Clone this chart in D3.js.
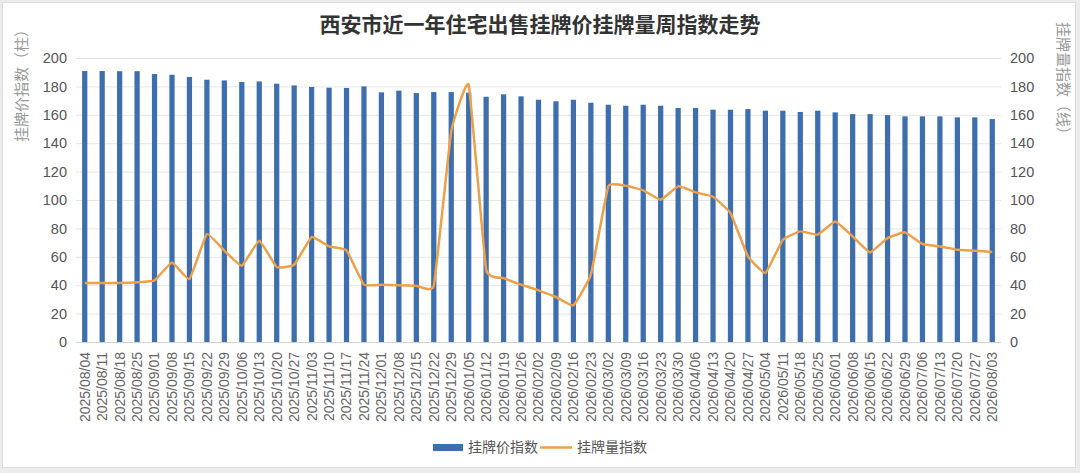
<!DOCTYPE html>
<html>
<head>
<meta charset="utf-8">
<script src="https://cdn.jsdelivr.net/npm/d3@7"></script>
<style>
  html, body { margin: 0; padding: 0; background: #ececec; }
  svg { display: block; font-family: "Liberation Sans", "Noto Sans CJK SC", sans-serif; }
</style>
</head>
<body>
<svg id="chart" width="1080" height="473"></svg>
<script>
// weekly dates
const weeks = [
  "2025/08/04", "2025/08/11", "2025/08/18", "2025/08/25", "2025/09/01", "2025/09/08",
  "2025/09/15", "2025/09/22", "2025/09/29", "2025/10/06", "2025/10/13", "2025/10/20",
  "2025/10/27", "2025/11/03", "2025/11/10", "2025/11/17", "2025/11/24", "2025/12/01",
  "2025/12/08", "2025/12/15", "2025/12/22", "2025/12/29", "2026/01/05", "2026/01/12",
  "2026/01/19", "2026/01/26", "2026/02/02", "2026/02/09", "2026/02/16", "2026/02/23",
  "2026/03/02", "2026/03/09", "2026/03/16", "2026/03/23", "2026/03/30", "2026/04/06",
  "2026/04/13", "2026/04/20", "2026/04/27", "2026/05/04", "2026/05/11", "2026/05/18",
  "2026/05/25", "2026/06/01", "2026/06/08", "2026/06/15", "2026/06/22", "2026/06/29",
  "2026/07/06", "2026/07/13", "2026/07/20", "2026/07/27", "2026/08/03"
];

// 挂牌价指数 (bars, left axis)
const priceIndex = [
  190.8, 190.8, 190.7, 190.7, 188.7, 188.2, 186.6, 184.7, 184.2, 183.1,
  183.5, 181.9, 180.7, 179.6, 179.1, 178.9, 180.0, 175.8, 177.0, 175.3,
  176.0, 176.0, 175.6, 172.7, 174.4, 173.0, 170.6, 169.5, 170.6, 168.5,
  167.1, 166.4, 167.1, 166.4, 164.8, 164.8, 163.6, 163.6, 164.0, 162.9,
  162.9, 162.0, 162.9, 161.7, 160.5, 160.5, 159.8, 158.9, 158.9, 158.9,
  158.2, 158.2, 157.0
];

// 挂牌量指数 (line, right axis)
const volumeIndex = [
  41.5, 41.5, 41.5, 42.0, 43.4, 56.0, 44.3, 76.0, 64.3, 53.7,
  71.3, 52.8, 54.4, 73.9, 67.3, 64.5, 40.4, 40.3, 40.0, 39.7,
  39.6, 148.3, 181.2, 50.9, 45.0, 40.4, 36.4, 31.7, 25.8, 47.4,
  109.6, 110.0, 106.8, 100.2, 109.6, 105.4, 102.3, 90.8, 60.3, 48.6,
  72.0, 77.9, 75.6, 84.9, 74.4, 63.1, 73.2, 77.2, 69.0, 67.3,
  65.0, 64.3, 63.4
];

const yTicks = [0, 20, 40, 60, 80, 100, 120, 140, 160, 180, 200];

const width = 1080, height = 473;
const margin = { top: 58, right: 79, bottom: 131, left: 76 };
const plotW = width - margin.left - margin.right;
const plotH = height - margin.top - margin.bottom;

const svg = d3.select("#chart");

// frame
svg.append("rect")
  .attr("x", 2.5).attr("y", 2.5)
  .attr("width", 1073).attr("height", 465)
  .attr("fill", "#fff")
  .attr("stroke", "#dcdcdc");

const x = d3.scaleBand()
  .domain(weeks)
  .range([margin.left, margin.left + plotW])
  .paddingInner(0.7)
  .paddingOuter(0.35);

const yLeft = d3.scaleLinear().domain([0, 200]).range([margin.top + plotH, margin.top]);
const yRight = d3.scaleLinear().domain([0, 200]).range([margin.top + plotH, margin.top]);

// gridlines
svg.append("g")
  .selectAll("line")
  .data(yTicks)
  .join("line")
  .attr("x1", margin.left)
  .attr("x2", margin.left + plotW)
  .attr("y1", d => yLeft(d) + 0.5)
  .attr("y2", d => yLeft(d) + 0.5)
  .attr("stroke", d => d === 0 ? "#d4d4d4" : "#e6e6e6")
  .attr("stroke-width", 1);

// left axis
const leftAxis = svg.append("g")
  .attr("transform", `translate(${margin.left - 9},0)`)
  .call(d3.axisLeft(yLeft).tickValues(yTicks).tickSize(0).tickPadding(0));
leftAxis.select(".domain").remove();
leftAxis.selectAll("text")
  .attr("fill", "#555")
  .attr("font-size", 14.5);

// right axis
const rightAxis = svg.append("g")
  .attr("transform", `translate(${margin.left + plotW + 9},0)`)
  .call(d3.axisRight(yRight).tickValues(yTicks).tickSize(0).tickPadding(0));
rightAxis.select(".domain").remove();
rightAxis.selectAll("text")
  .attr("fill", "#555")
  .attr("font-size", 14.5);

// x axis labels
const xAxis = svg.append("g")
  .attr("transform", `translate(0,${margin.top + plotH})`)
  .call(d3.axisBottom(x).tickSize(0).tickPadding(0));
xAxis.select(".domain").remove();
xAxis.selectAll("text")
  .attr("fill", "#666")
  .attr("font-size", 14)
  .attr("text-anchor", "end")
  .attr("dy", "0.35em")
  .attr("transform", "translate(0,10) rotate(-90)");

// bars
svg.append("g")
  .selectAll("rect")
  .data(priceIndex)
  .join("rect")
  .attr("x", (d, i) => x(weeks[i]))
  .attr("y", d => yLeft(d))
  .attr("width", x.bandwidth())
  .attr("height", d => yLeft(0) - yLeft(d))
  .attr("fill", "#3d6eae");

// line
const line = d3.line()
  .x((d, i) => x(weeks[i]) + x.bandwidth() / 2)
  .y(d => yRight(d))
  .curve(d3.curveCardinal.tension(0.7));

svg.append("path")
  .datum(volumeIndex)
  .attr("d", line)
  .attr("fill", "none")
  .attr("stroke", "#eda048")
  .attr("stroke-width", 2.5)
  .attr("stroke-linejoin", "round");

// title
svg.append("text")
  .attr("x", 540)
  .attr("y", 32)
  .attr("text-anchor", "middle")
  .attr("font-family", "'Noto Sans CJK SC', sans-serif")
  .attr("font-weight", "bold")
  .attr("font-size", 21)
  .attr("fill", "#333")
  .text("西安市近一年住宅出售挂牌价挂牌量周指数走势");

// axis titles
svg.append("text")
  .attr("transform", "translate(22,82) rotate(-90)")
  .attr("text-anchor", "middle")
  .attr("dy", "0.35em")
  .attr("font-family", "'Noto Sans CJK SC', sans-serif")
  .attr("font-size", 15)
  .attr("fill", "#999")
  .text("挂牌价指数（柱）");

svg.append("text")
  .attr("transform", "translate(1063,82) rotate(90)")
  .attr("text-anchor", "middle")
  .attr("dy", "0.35em")
  .attr("font-family", "'Noto Sans CJK SC', sans-serif")
  .attr("font-size", 15)
  .attr("fill", "#999")
  .text("挂牌量指数（线）");

// legend
const legend = svg.append("g")
  .attr("font-family", "'Noto Sans CJK SC', sans-serif")
  .attr("font-size", 14)
  .attr("fill", "#555");

legend.append("rect")
  .attr("x", 433).attr("y", 444)
  .attr("width", 30).attr("height", 7)
  .attr("fill", "#3d6eae");
legend.append("text")
  .attr("x", 468).attr("y", 447.5)
  .attr("dy", "0.35em")
  .text("挂牌价指数");

legend.append("line")
  .attr("x1", 540).attr("x2", 572)
  .attr("y1", 447.5).attr("y2", 447.5)
  .attr("stroke", "#eda048")
  .attr("stroke-width", 2.5);
legend.append("text")
  .attr("x", 577).attr("y", 447.5)
  .attr("dy", "0.35em")
  .text("挂牌量指数");
</script>
</body>
</html>
